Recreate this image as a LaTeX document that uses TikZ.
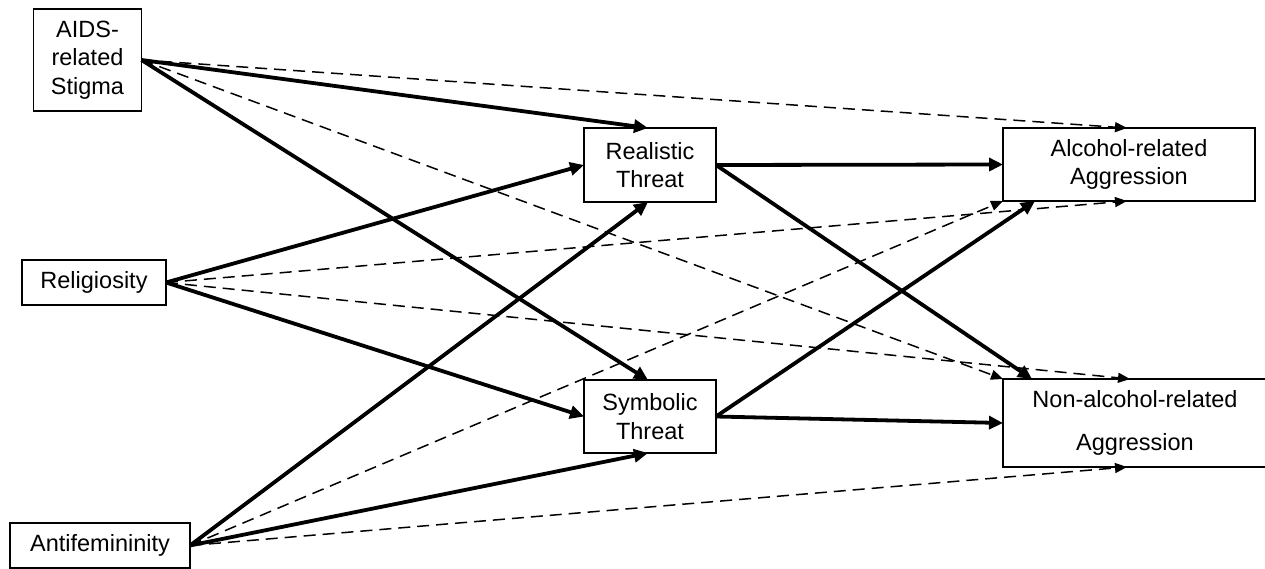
\documentclass[tikz,border=0pt]{standalone}
\usepackage{fontspec}
\setmainfont{Liberation Sans}
\usetikzlibrary{arrows.meta}
\begin{document}
\begin{tikzpicture}[x=1pt,y=-1pt,
  box/.style={draw, line width=1.4pt, align=center, inner sep=0pt, outer sep=0pt,
    font=\fontsize{23.5}{28.3}\selectfont},
  strong/.style={line width=3.8pt, -{Triangle[length=14pt,width=13pt]}},
  weak/.style={line width=1.5pt, dash pattern=on 12pt off 7pt, -{Triangle[length=12pt,width=10pt]}}
]
\useasboundingbox (0,0) rectangle (1265,569);
\node[box, minimum width=108pt, minimum height=102pt] (aids) at (87.5,60) {AIDS-\\related\\Stigma};
\node[box, minimum width=144pt, minimum height=45pt] (rel) at (94,282.5) {Religiosity};
\node[box, minimum width=180pt, minimum height=45pt] (anti) at (100,545.5) {Antifemininity};
\node[box, minimum width=132pt, minimum height=74pt] (real) at (650,165) {Realistic\\Threat};
\node[box, minimum width=132pt, minimum height=73pt] (sym) at (650,416.5) {Symbolic\\Threat};
\node[box, minimum width=252pt, minimum height=73pt] (alc) at (1129,164.5) {Alcohol-related\\Aggression};
\node[box, minimum width=264pt, minimum height=88pt, font=\fontsize{23.5}{43}\selectfont] (non) at (1135,423) {Non-alcohol-related\\Aggression};

% dashed paths
\draw[weak] (aids.east) -- ([xshift=-2pt]alc.north);
\draw[weak] (aids.east) -- (non.north west);
\draw[weak] (rel.east) -- ([xshift=-2pt]alc.south);
\draw[weak] (rel.east) -- ([xshift=-5pt]non.north);
\draw[weak] (anti.east) -- (alc.south west);
\draw[weak] (anti.east) -- ([xshift=-8pt]non.south);

% solid paths
\draw[strong] (aids.east) -- ([xshift=-2pt]real.north);
\draw[strong] (aids.east) -- ([xshift=-2pt]sym.north);
\draw[strong] (rel.east) -- (real.west);
\draw[strong] (rel.east) -- (sym.west);
\draw[strong] (anti.east) -- ([xshift=-2pt]real.south);
\draw[strong] (anti.east) -- ([xshift=-2pt]sym.south);
\draw[strong] (real.east) -- (alc.west);
\draw[strong] (real.east) -- ([xshift=29pt]non.north west);
\draw[strong] (sym.east) -- ([xshift=32pt]alc.south west);
\draw[strong] (sym.east) -- (non.west);
\end{tikzpicture}
\end{document}
